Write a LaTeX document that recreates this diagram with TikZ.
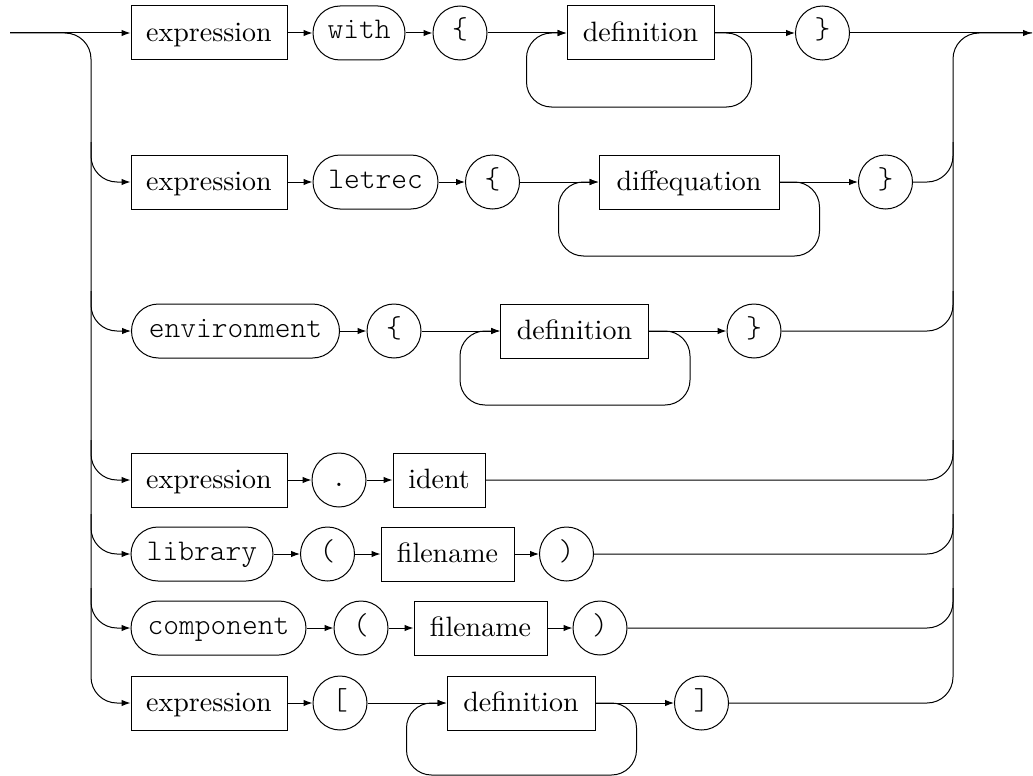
\documentclass[tikz,border=0pt]{standalone}
\usepackage{fontspec}
\usetikzlibrary{arrows.meta,calc}
\newfontfamily\lmromanten{lmroman10-regular.otf}
\newfontfamily\lmmonolight{lmmonolt10-regular.otf}
\newcommand\synrm{\fontsize{28}{32}\selectfont\lmromanten}
\newcommand\syntt{\fontsize{30}{34}\selectfont\lmmonolight}
\tikzset{
  base/.style={draw, line width=1pt, inner sep=0pt, minimum height=54pt},
  ntbox/.style={base, rectangle, font=\synrm, text height=22pt, text depth=5pt},
  kwbox/.style={base, rectangle, rounded corners=27pt, font=\syntt, text height=20pt, text depth=8pt},
  tokc/.style={base, circle, minimum size=54pt, font=\syntt, text height=20pt, text depth=8pt},
  plain/.style={line width=1pt},
  conn/.style={plain, -{Latex[length=9pt,width=6.5pt]}},
  rail/.style={rounded corners=26pt},
  loopc/.style={rounded corners=25pt},
}
\begin{document}
\begin{tikzpicture}[x=1pt,y=-1pt]
\useasboundingbox (0,0) rectangle (1033,776);
\coordinate (start) at (10,33);
\coordinate (end) at (1032,33);
\coordinate (L) at (91,0);
\coordinate (R) at (953,0);

% Row 1
\node[ntbox, minimum width=156pt] (e1) at (209,33) {expression};
\node[kwbox, minimum width=92pt] (with) at (359,33) {with};
\node[tokc] (lb1) at (460,33) {\{};
\node[ntbox, minimum width=147pt] (d1) at (640.5,33) {definition};
\node[tokc] (rb1) at (822.5,33) {\}};

% Row 2
\node[ntbox, minimum width=156pt] (e2) at (209,182) {expression};
\node[kwbox, minimum width=125pt] (letrec) at (375.5,182) {letrec};
\node[tokc] (lb2) at (492.5,182) {\{};
\node[ntbox, minimum width=180pt] (dq) at (689,182) {diffequation};
\node[tokc] (rb2) at (885.5,182) {\}};

% Row 3
\node[kwbox, minimum width=208pt] (env) at (235.5,331) {environment};
\node[tokc] (lb3) at (394,331) {\{};
\node[ntbox, minimum width=148pt] (d3) at (574.5,331) {definition};
\node[tokc] (rb3) at (754,331) {\}};

% Row 4
\node[ntbox, minimum width=156pt] (e4) at (209,480) {expression};
\node[tokc] (dot) at (339,480) {.};
\node[ntbox, minimum width=92pt] (ident) at (439,480) {ident};

% Row 5
\node[kwbox, minimum width=142pt] (lib) at (202,554) {library};
\node[tokc] (lp5) at (327.5,554) {(};
\node[ntbox, minimum width=133pt] (fn5) at (447.5,554) {filename};
\node[tokc] (rp5) at (566.5,554) {)};

% Row 6
\node[kwbox, minimum width=175pt] (comp) at (218.5,628) {component};
\node[tokc] (lp6) at (361,628) {(};
\node[ntbox, minimum width=133pt] (fn6) at (480.5,628) {filename};
\node[tokc] (rp6) at (600,628) {)};

% Row 7
\node[ntbox, minimum width=156pt] (e7) at (209,703) {expression};
\node[tokc] (lbr) at (340,703) {[};
\node[ntbox, minimum width=148pt] (d7) at (521,703) {definition};
\node[tokc] (rbr) at (701.5,703) {]};

% main line
\draw[conn] (start) -- (e1);
\draw[conn] (rb1) -- (end);

% row connectors
\draw[conn] (e1) -- (with);
\draw[conn] (with) -- (lb1);
\draw[conn] (lb1) -- (d1);
\draw[conn] (d1) -- (rb1);

\draw[conn] (e2) -- (letrec);
\draw[conn] (letrec) -- (lb2);
\draw[conn] (lb2) -- (dq);
\draw[conn] (dq) -- (rb2);

\draw[conn] (env) -- (lb3);
\draw[conn] (lb3) -- (d3);
\draw[conn] (d3) -- (rb3);

\draw[conn] (e4) -- (dot);
\draw[conn] (dot) -- (ident);

\draw[conn] (lib) -- (lp5);
\draw[conn] (lp5) -- (fn5);
\draw[conn] (fn5) -- (rp5);

\draw[conn] (comp) -- (lp6);
\draw[conn] (lp6) -- (fn6);
\draw[conn] (fn6) -- (rp6);

\draw[conn] (e7) -- (lbr);
\draw[conn] (lbr) -- (d7);
\draw[conn] (d7) -- (rbr);

% repetition loops
\draw[conn, loopc] (d1.east) -| ($(d1.east)+(37,74)$) -| ($(d1.west)+(-40,0)$) -- (d1.west);
\draw[conn, loopc] (dq.east) -| ($(dq.east)+(40,74)$) -| ($(dq.west)+(-40,0)$) -- (dq.west);
\draw[conn, loopc] (d3.east) -| ($(d3.east)+(41,74)$) -| ($(d3.west)+(-40,0)$) -- (d3.west);
\draw[conn, loopc] (d7.east) -| ($(d7.east)+(41,72)$) -| ($(d7.west)+(-40,0)$) -- (d7.west);

% left rail
\draw[conn, rail] (start) -| (e7.west -| L) -- (e7.west);
\draw[conn, rail] ($(e2.west -| L)+(0,-40)$) |- (e2.west);
\draw[conn, rail] ($(env.west -| L)+(0,-40)$) |- (env.west);
\draw[conn, rail] ($(e4.west -| L)+(0,-40)$) |- (e4.west);
\draw[conn, rail] ($(lib.west -| L)+(0,-40)$) |- (lib.west);
\draw[conn, rail] ($(comp.west -| L)+(0,-40)$) |- (comp.west);

% right rail
\draw[plain, rail] (rbr.east) -| (end -| R) -- (end);
\draw[plain, rail] (rb2.east) -| ($(rb2.east -| R)+(0,-40)$);
\draw[plain, rail] (rb3.east) -| ($(rb3.east -| R)+(0,-40)$);
\draw[plain, rail] (ident.east) -| ($(ident.east -| R)+(0,-40)$);
\draw[plain, rail] (rp5.east) -| ($(rp5.east -| R)+(0,-40)$);
\draw[plain, rail] (rp6.east) -| ($(rp6.east -| R)+(0,-40)$);
\end{tikzpicture}
\end{document}
